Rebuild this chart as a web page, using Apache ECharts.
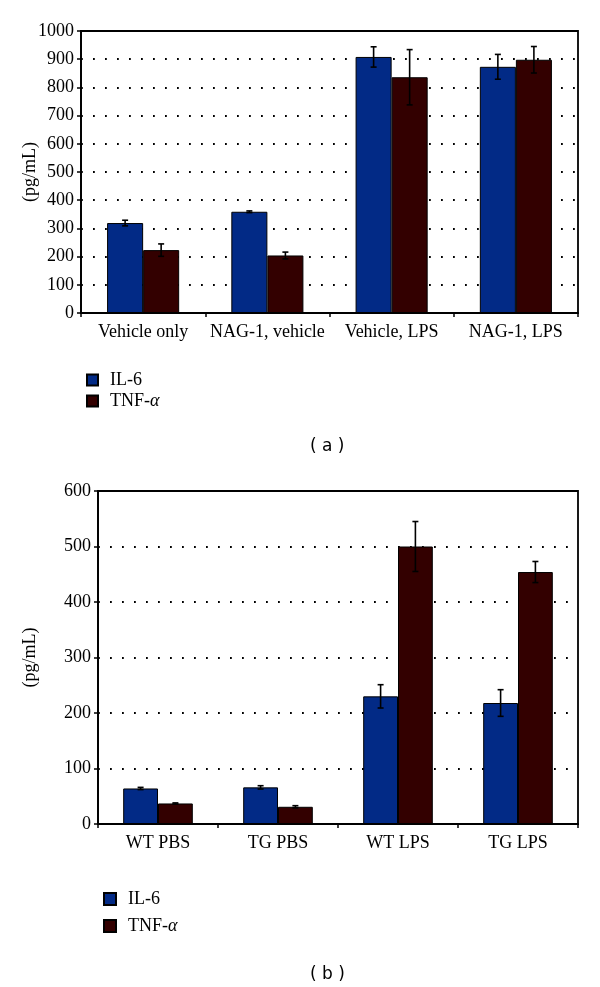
<!DOCTYPE html>
<html><head><meta charset="utf-8">
<script src="https://cdn.jsdelivr.net/npm/echarts@6/dist/echarts.min.js"></script>
<style>html,body{margin:0;padding:0;background:#fff}#c{width:600px;height:987px}</style>
</head><body><div id="c"></div>
<script>
var catsA = ['Vehicle only', 'NAG-1, vehicle', 'Vehicle, LPS', 'NAG-1, LPS'];
var il6A = [319, 359, 908, 873];
var il6ErrA = [10, 3, 36, 44];
var tnfA = [223, 204, 836, 898];
var tnfErrA = [22, 12, 98, 47];
var ticksA = {min: 0, max: 1000, interval: 100};

var catsB = ['WT PBS', 'TG PBS', 'WT LPS', 'TG LPS'];
var il6B = [64, 66, 230, 218];
var il6ErrB = [2, 3, 21, 24];
var tnfB = [37, 31, 500, 454];
var tnfErrB = [1, 2, 45, 19];
var ticksB = {min: 0, max: 600, interval: 100};

var BLUE = '#022a86', BROWN = '#330000';
var SERIF = '"Liberation Serif", "DejaVu Serif", serif';
var FS = 18;
var BAR_FRAC = 0.29;

function errData(vals, errs) { return vals.map(function (v, i) { return [i, v, errs[i]]; }); }
function errSeries(vals, errs, side, xi) {
  return {
    type: 'custom', xAxisIndex: xi, yAxisIndex: xi, z: 5, silent: true,
    data: errData(vals, errs),
    encode: {x: 0, y: 1},
    renderItem: function (params, api) {
      var i = api.value(0), v = api.value(1), e = api.value(2);
      var band = api.size([1, 0])[0];
      var c = api.coord([i, v]);
      var x = c[0] + side * band * BAR_FRAC / 2;
      var top = api.coord([i, v + e])[1], bot = api.coord([i, v - e])[1];
      var cap = 3;
      var st = {stroke: '#000', lineWidth: 1.6};
      return {type: 'group', children: [
        {type: 'line', shape: {x1: x, y1: top, x2: x, y2: bot}, style: st},
        {type: 'line', shape: {x1: x - cap, y1: top, x2: x + cap, y2: top}, style: st},
        {type: 'line', shape: {x1: x - cap, y1: bot, x2: x + cap, y2: bot}, style: st}
      ]};
    }
  };
}
function barSeries(name, vals, color, xi) {
  return {
    name: name, type: 'bar', xAxisIndex: xi, yAxisIndex: xi, data: vals,
    barWidth: (BAR_FRAC * 100) + '%', barGap: '0%',
    itemStyle: {color: color, borderColor: '#000', borderWidth: 1}
  };
}
function xAxis(cats, gi) {
  return {
    type: 'category', gridIndex: gi, data: cats,
    axisLine: {lineStyle: {color: '#000', width: 1.8}},
    axisTick: {show: true, length: 4, lineStyle: {color: '#000', width: 1.5}},
    axisLabel: {color: '#000', fontFamily: SERIF, fontSize: FS, margin: 10, interval: 0}
  };
}
function yAxis(t, gi, gap) {
  return {
    type: 'value', gridIndex: gi, min: t.min, max: t.max, interval: t.interval,
    name: '(pg/mL)', nameLocation: 'middle', nameRotate: 90, nameGap: gap,
    nameMoveOverlap: false,
    nameTextStyle: {color: '#000', fontFamily: SERIF, fontSize: FS},
    axisLine: {show: true, lineStyle: {color: '#000', width: 1.8}},
    axisTick: {show: true, length: 4, lineStyle: {color: '#000', width: 1.5}},
    axisLabel: {color: '#000', fontFamily: SERIF, fontSize: FS, margin: 7,
      formatter: function (v) { return String(v); }},
    splitLine: {show: true, lineStyle: {color: '#000', width: 1.8, type: [1.8, 10.2]}}
  };
}
var legendText = {
  color: '#000', fontFamily: SERIF, fontSize: FS, padding: [0, 0, 0, 7],
  rich: {i: {fontStyle: 'italic', fontFamily: SERIF, fontSize: FS, color: '#000'}}
};
function legendFmt(n) { return n === 'TNF-α' ? 'TNF-{i|α}' : n; }

var chart = echarts.init(document.getElementById('c'), null, {renderer: 'canvas'});
chart.setOption({
  animation: false,
  backgroundColor: '#fff',
  grid: [
    {left: 81, top: 31, width: 497, height: 282, show: true, borderColor: '#000', borderWidth: 1.8, backgroundColor: 'transparent'},
    {left: 98, top: 491, width: 480, height: 333, show: true, borderColor: '#000', borderWidth: 1.8, backgroundColor: 'transparent'}
  ],
  xAxis: [xAxis(catsA, 0), xAxis(catsB, 1)],
  yAxis: [yAxis(ticksA, 0, 42), yAxis(ticksB, 1, 59)],
  legend: [
    {orient: 'vertical', left: 81, top: 366, icon: 'rect', itemWidth: 11, itemHeight: 11, itemGap: 3,
     data: ['IL-6', 'TNF-α'], textStyle: legendText, formatter: legendFmt},
    {orient: 'vertical', left: 98, top: 885, icon: 'rect', itemWidth: 12, itemHeight: 12, itemGap: 9,
     data: ['IL-6', 'TNF-α'], textStyle: legendText, formatter: legendFmt}
  ],
  title: [
    {text: '( a )', left: 305, top: 433, textStyle: {fontFamily: '"DejaVu Sans", sans-serif', fontWeight: 'normal', fontSize: 17, color: '#000'}},
    {text: '( b )', left: 305, top: 961, textStyle: {fontFamily: '"DejaVu Sans", sans-serif', fontWeight: 'normal', fontSize: 17, color: '#000'}}
  ],
  series: [
    barSeries('IL-6', il6A, BLUE, 0),
    barSeries('TNF-α', tnfA, BROWN, 0),
    errSeries(il6A, il6ErrA, -1, 0),
    errSeries(tnfA, tnfErrA, 1, 0),
    barSeries('IL-6', il6B, BLUE, 1),
    barSeries('TNF-α', tnfB, BROWN, 1),
    errSeries(il6B, il6ErrB, -1, 1),
    errSeries(tnfB, tnfErrB, 1, 1)
  ]
});
</script></body></html>
